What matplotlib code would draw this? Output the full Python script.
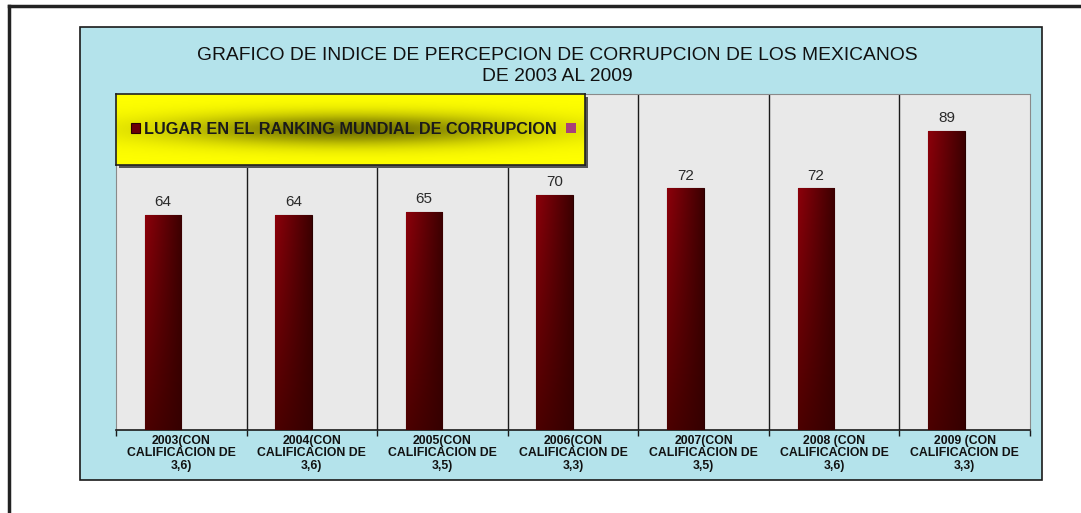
import numpy as np
import matplotlib
matplotlib.use("Agg")
import matplotlib.pyplot as plt
from matplotlib.patches import Rectangle

plt.rcParams["font.family"] = ["Liberation Sans", "DejaVu Sans"]

# --- données ---
categories = ["2003(CON\nCALIFICACION DE\n3,6)",
              "2004(CON\nCALIFICACION DE\n3,6)",
              "2005(CON\nCALIFICACION DE\n3,5)",
              "2006(CON\nCALIFICACION DE\n3,3)",
              "2007(CON\nCALIFICACION DE\n3,5)",
              "2008 (CON\nCALIFICACION DE\n3,6)",
              "2009 (CON\nCALIFICACION DE\n3,3)"]
ranking = [64, 64, 65, 70, 72, 72, 89]
serie_vide = [0, 0, 0, 0, 0, 0, 0]          # 2e série d'Excel, sans valeurs
serie_nom = "LUGAR EN EL RANKING MUNDIAL DE CORRUPCION"
titre = "GRAFICO DE INDICE DE PERCEPCION DE CORRUPCION DE LOS MEXICANOS\nDE 2003 AL 2009"

W, H = 1081, 513


def fx(px):
    return px / W


def fy(py):
    return 1 - py / H


fig = plt.figure(figsize=(W / 100, H / 100), dpi=100)
fig.patch.set_facecolor("white")

# cadre extérieur (haut + gauche)
fig.add_artist(plt.Line2D([fx(9), 1], [fy(6), fy(6)], color="#222222", lw=2.5))
fig.add_artist(plt.Line2D([fx(9), fx(9)], [fy(6), 0], color="#222222", lw=2.5))

# zone du graphique (fond bleu clair)
fig.add_artist(Rectangle((fx(80), fy(480)), fx(1042) - fx(80), fy(27) - fy(480),
                         transform=fig.transFigure, facecolor="#b4e3eb",
                         edgecolor="#1a1a1a", lw=1.2, zorder=0))

fig.text(fx(557), fy(66), titre, ha="center", va="center", fontsize=13.9,
         linespacing=1.3, color="#111111")

# zone de traçage (fond « marbre »)
ax = fig.add_axes([fx(116), fy(430), fx(1030) - fx(116), fy(94) - fy(430)])
ax.set_facecolor("#e9e9e9")
x = np.arange(len(ranking))
w = 0.28
b1 = ax.bar(x - w / 2, ranking, width=w, color="#6a0008", edgecolor="#2a0000",
            lw=0.8, zorder=3)
b2 = ax.bar(x + w / 2, serie_vide, width=w, color="#a8407a", edgecolor="#3a1020",
            lw=0, zorder=3)

# dégradé rouge foncé dans chaque barre (clair à gauche/haut, sombre à droite/bas)
gx = np.linspace(0, 1, 64)[None, :, None]
gy = np.linspace(0, 1, 64)[:, None, None]
top = np.array([0.55, 0.0, 0.04])
bot = np.array([0.30, 0.0, 0.0])
dark = np.array([0.20, 0.0, 0.0])
col = bot + (top - bot) * gy
grad = col * (1 - 0.9 * gx) + dark * 0.9 * gx
for bar in b1:
    bx, by = bar.get_x(), bar.get_y()
    im = ax.imshow(grad, extent=(bx, bx + bar.get_width(), by, by + bar.get_height()),
                   origin="lower", aspect="auto", zorder=3.5, interpolation="bilinear")
    im.set_clip_path(bar)
ax.set_xlim(-0.5, len(ranking) - 0.5)
ax.set_ylim(0, 100)

for xi, v in zip(x, ranking):
    ax.annotate(str(v), (xi - w / 2, v), xytext=(0, 4), textcoords="offset points",
                ha="center", va="bottom", fontsize=11, color="#2a2a2a", zorder=5)

# séparateurs de catégories
for k in range(1, len(ranking)):
    ax.axvline(k - 0.5, color="#1a1a1a", lw=1.0, zorder=2)

ax.set_yticks([])
ax.set_xticks(np.arange(len(ranking) + 1) - 0.5)
ax.set_xticklabels([])
ax.tick_params(axis="x", which="major", length=4, width=1, color="#1a1a1a", direction="out")
ax.set_xticks(x, minor=True)
ax.set_xticklabels(categories, minor=True, fontsize=8.8, fontweight="bold",
                   linespacing=1.06, color="#111111")
ax.tick_params(axis="x", which="minor", length=0, pad=3.5)
for side in ["top", "right", "left"]:
    ax.spines[side].set_color("#8a8a8a")
ax.spines["bottom"].set_color("#1a1a1a")
ax.spines["bottom"].set_linewidth(1.2)

# légende : boîte jaune avec ombre centrale
lx0, lx1, ly0, ly1 = 116, 585, 94, 165
fig.add_artist(Rectangle((fx(lx0 + 3), fy(ly1 + 3)), fx(lx1) - fx(lx0), fy(ly0) - fy(ly1),
                         transform=fig.transFigure, facecolor="#555555", lw=0,
                         zorder=9))
lax = fig.add_axes([fx(lx0), fy(ly1), fx(lx1) - fx(lx0), fy(ly0) - fy(ly1)], zorder=10)
u = np.linspace(-1, 1, 240)[None, :]
t = np.linspace(-1, 1, 80)[:, None]
shade = 1 - 0.55 * np.exp(-(u / 0.75) ** 2 - (t / 0.45) ** 2)
yellow = np.array([1.0, 1.0, 0.0])
lax.imshow(shade[:, :, None] * yellow, aspect="auto", extent=(0, 1, 0, 1),
           interpolation="bilinear")
lax.set_xticks([])
lax.set_yticks([])
for s in lax.spines.values():
    s.set_color("#222222")
    s.set_linewidth(1.2)
lax.legend([b1, b2], [serie_nom, ""], ncol=2, loc="center left",
           bbox_to_anchor=(0.0, 0.5), frameon=False,
           prop={"size": 11.7, "weight": "bold"}, labelcolor="#1a1a1a",
           handlelength=0.6, handleheight=0.6, handletextpad=0.25, columnspacing=0.55,
           borderaxespad=0.5)

fig.savefig("out.png", dpi=100)
